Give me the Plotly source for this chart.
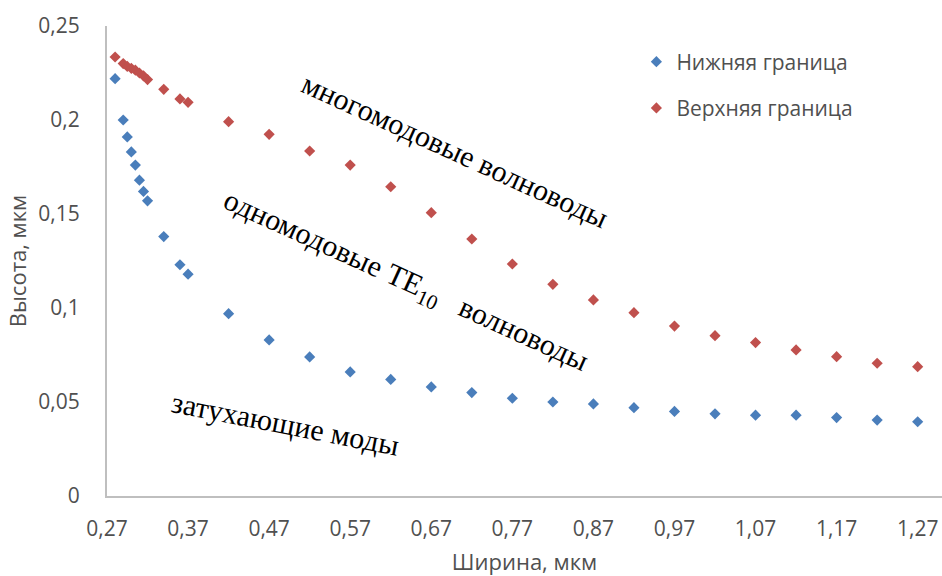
import plotly.graph_objects as go

# Waveguide width, um (shared by both boundaries)
width_um = [0.28, 0.29, 0.295, 0.30, 0.305, 0.31, 0.315, 0.32, 0.34, 0.36, 0.37,
            0.42, 0.47, 0.52, 0.57, 0.62, 0.67, 0.72, 0.77, 0.82, 0.87,
            0.92, 0.97, 1.02, 1.07, 1.12, 1.17, 1.22, 1.27]

# Lower boundary (cut-off of the TE10 mode), height in um
height_lower = [0.222, 0.200, 0.191, 0.183, 0.176, 0.168, 0.162, 0.157, 0.138, 0.123, 0.118,
                0.097, 0.083, 0.074, 0.066, 0.062, 0.058, 0.055, 0.052, 0.050, 0.049,
                0.047, 0.045, 0.0437, 0.043, 0.043, 0.0417, 0.0404, 0.0395]

# Upper boundary (onset of higher modes), height in um
height_upper = [0.2335, 0.230, 0.2285, 0.2275, 0.2265, 0.225, 0.2235, 0.2215, 0.2163, 0.2112, 0.2094,
                0.1991, 0.1924, 0.1835, 0.176, 0.1645, 0.1507, 0.1367, 0.1234, 0.1126, 0.1043,
                0.0975, 0.0904, 0.0853, 0.0816, 0.0777, 0.0741, 0.0706, 0.0688]

series_names = ["Нижняя граница", "Верхняя граница"]
series_colors = ["#4A7EBB", "#C0504D"]

x_ticks = [0.27, 0.37, 0.47, 0.57, 0.67, 0.77, 0.87, 0.97, 1.07, 1.17, 1.27]
y_ticks = [0, 0.05, 0.1, 0.15, 0.2, 0.25]

tick_font = dict(family="Open Sans", size=21, color="#505050")
title_font = dict(family="Open Sans", size=22, color="#505050")
label_font = dict(family="Liberation Serif", size=30, color="#000000")

fig = go.Figure()
for name, ys, color, grp in zip(series_names, [height_lower, height_upper], series_colors, ["a", "b"]):
    fig.add_trace(go.Scatter(
        x=width_um, y=ys, mode="markers", name=name, legendgroup=grp,
        marker=dict(symbol="diamond", size=8.6, color=color, line=dict(width=0)),
    ))

# Region labels
fig.add_annotation(x=0.70, y=0.184, text="многомодовые волноводы", textangle=24.5,
                   showarrow=False, font=label_font)
fig.add_annotation(x=0.638, y=0.1138,
                   text="одномодовые TE<sub>10</sub>\u00a0\u00a0\u00a0волноводы", textangle=24.5,
                   showarrow=False, font=label_font)
fig.add_annotation(x=0.49, y=0.0388, text="затухающие моды", textangle=11,
                   showarrow=False, font=label_font)

fig.update_layout(
    width=942, height=576,
    margin=dict(l=107, r=0, t=26, b=80),
    paper_bgcolor="white", plot_bgcolor="white",
    separators=", ",
    showlegend=True,
    legend=dict(x=0.634, y=0.967, xanchor="left", yanchor="top",
                font=tick_font, tracegroupgap=16, bgcolor="rgba(0,0,0,0)"),
    xaxis=dict(
        range=[0.27, 1.30], tickvals=x_ticks, tickformat=".2f",
        showgrid=False, zeroline=False, showline=True, linecolor="#BFBFBF", linewidth=2,
        ticks="", tickfont=tick_font, ticklabelstandoff=13,
        title=dict(text="Ширина, мкм", font=title_font, standoff=18),
    ),
    yaxis=dict(
        range=[0, 0.25], tickvals=y_ticks,
        showgrid=False, zeroline=False, showline=True, linecolor="#BFBFBF", linewidth=2,
        ticks="", tickfont=tick_font, ticklabelstandoff=21,
        title=dict(text="Высота, мкм", font=title_font, standoff=6),
    ),
)

fig.write_html("out.html")
